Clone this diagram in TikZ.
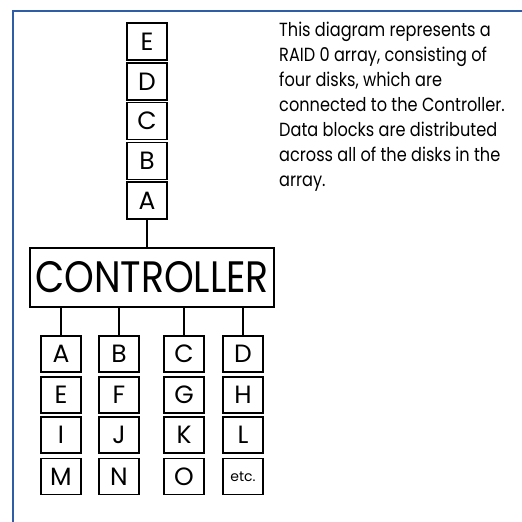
\documentclass[tikz,border=0pt]{standalone}
\usepackage{fontspec}
\setmainfont{Poppins}
\newfontfamily\parafont[FakeStretch=0.85]{Poppins}
\newfontfamily\ctrlfont[FakeStretch=0.86]{Poppins}
\definecolor{frameblue}{HTML}{2F5DA6}
\tikzset{
  blk/.style={draw, line width=1.3pt, minimum width=40pt, minimum height=36pt, inner sep=0pt, font=\fontsize{25}{25}\selectfont},
  wire/.style={draw, line width=1.3pt},
  frameline/.style={draw=frameblue, line width=1.6pt}
}
\begin{document}
\begin{tikzpicture}[x=1pt,y=-1pt]
\useasboundingbox (0,0) rectangle (522,522);
\coordinate (fb) at (13,522);
\coordinate (fc) at (13,11);
\coordinate (fr) at (522,11);
\draw[frameline] (fb) -- (fc) -- (fr);
% top stack
\node[blk, minimum height=37pt] (tE) at (147,41.5) {E};
\node[blk, minimum height=37pt] (tD) at (147,81.5) {D};
\node[blk, minimum height=37pt] (tC) at (147,121) {C};
\node[blk, minimum height=37pt] (tB) at (147,161) {B};
\node[blk, minimum height=37pt] (tA) at (147,200.5) {A};
% controller
\node[draw, line width=1.3pt, minimum width=244pt, minimum height=59pt, inner sep=0pt, font=\ctrlfont\fontsize{44}{44}\selectfont] (ctrl) at (152,277.5) {CONTROLLER};
\draw[wire] (tA.south) -- (tA.south |- ctrl.north);
% disks
\node[blk] (a1) at (61,354) {A};
\node[blk] (a2) at (61,395) {E};
\node[blk] (a3) at (61,435) {I};
\node[blk] (a4) at (61,476.5) {M};
\node[blk] (b1) at (119,354) {B};
\node[blk] (b2) at (119,395) {F};
\node[blk] (b3) at (119,435) {J};
\node[blk] (b4) at (119,476.5) {N};
\node[blk] (c1) at (184,354) {C};
\node[blk] (c2) at (184,395) {G};
\node[blk] (c3) at (184,435) {K};
\node[blk] (c4) at (184,476.5) {O};
\node[blk] (d1) at (243,354) {D};
\node[blk] (d2) at (243,395) {H};
\node[blk] (d3) at (243,435) {L};
\node[blk, font=\fontsize{14}{14}\selectfont] (d4) at (243,476.5) {etc.};
\foreach \n in {a1,b1,c1,d1}{\draw[wire] (\n.north) -- (\n.north |- ctrl.south);}
% text
\node[anchor=north west, inner sep=0pt, align=left, font=\parafont\fontsize{19}{25}\selectfont] (txt) at (279,22) {This diagram represents a\\RAID 0 array, consisting of\\four disks, which are\\connected to the Controller.\\Data blocks are distributed\\across all of the disks in the\\array.};
\end{tikzpicture}
\end{document}
